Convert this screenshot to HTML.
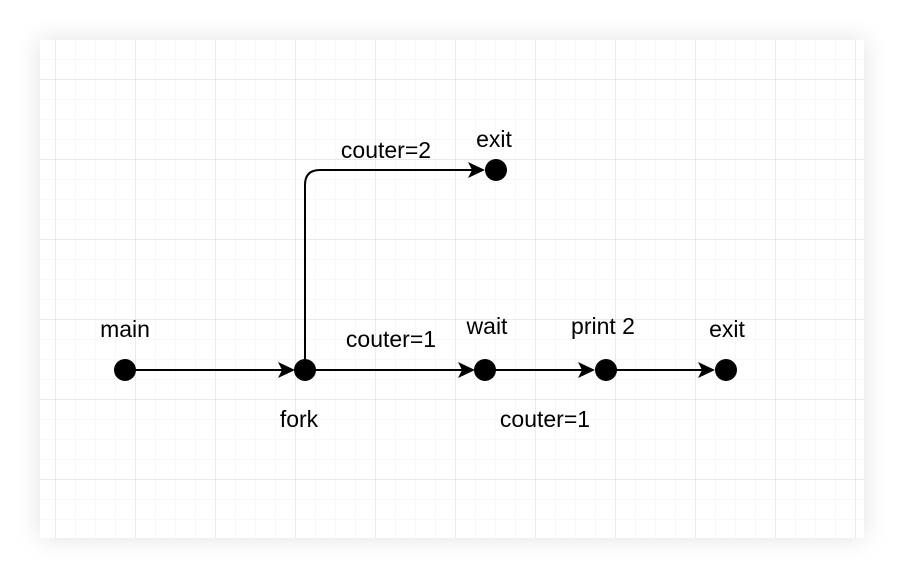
<!DOCTYPE html>
<html><head><style>
html,body{margin:0;padding:0;background:#fff;width:904px;height:578px;overflow:hidden}
#card{position:absolute;left:40px;top:40px;width:824px;height:498px;background:#fff;box-shadow:0 0 24px rgba(0,0,0,0.12)}
svg{position:absolute;left:0;top:0}
text{font-family:"Liberation Sans",Helvetica,sans-serif;font-size:23px;fill:#000}
</style></head><body>
<div id="card"></div>
<svg width="904" height="578" viewBox="0 0 904 578">
<defs>
<pattern id="minor" x="55" y="79" width="20" height="20" patternUnits="userSpaceOnUse">
<path d="M0 0H20M0 0V20" stroke="#f0f0f0" stroke-width="1" fill="none"/>
</pattern>
<pattern id="major" x="55" y="79" width="80" height="80" patternUnits="userSpaceOnUse">
<path d="M0 0H80M0 0V80" stroke="#dcdcdc" stroke-width="1.2" fill="none"/>
</pattern>
<clipPath id="c"><rect x="40" y="40" width="824" height="498"/></clipPath>
</defs>
<g clip-path="url(#c)">
<rect x="40" y="40" width="824" height="498" fill="url(#minor)"/>
<rect x="40" y="40" width="824" height="498" fill="url(#major)"/>
</g>
<g stroke="#000" stroke-width="2" fill="none">
<path d="M125 370H288"/>
<path d="M305 370H468"/>
<path d="M485 370H588"/>
<path d="M605 370H708"/>
<path d="M305 370V185Q305 170 320 170H478"/>
</g>
<g fill="#000">
<path d="M295 370L278 362L282 370L278 378Z"/>
<path d="M475 370L458 362L462 370L458 378Z"/>
<path d="M595 370L578 362L582 370L578 378Z"/>
<path d="M715 370L698 362L702 370L698 378Z"/>
<path d="M485 170L468 162L472 170L468 178Z"/>
<circle cx="125" cy="370" r="11"/>
<circle cx="305" cy="370" r="11"/>
<circle cx="485" cy="370" r="11"/>
<circle cx="606" cy="370" r="11"/>
<circle cx="726" cy="370" r="11"/>
<circle cx="496" cy="170" r="11"/>
</g>
<text x="125" y="337" text-anchor="middle">main</text>
<text x="299" y="427" text-anchor="middle">fork</text>
<text x="487" y="334" text-anchor="middle">wait</text>
<text x="603" y="334" text-anchor="middle">print 2</text>
<text x="727" y="337" text-anchor="middle">exit</text>
<text x="494" y="147" text-anchor="middle">exit</text>
<text x="386" y="158" text-anchor="middle">couter=2</text>
<text x="391" y="347" text-anchor="middle">couter=1</text>
<text x="545" y="427" text-anchor="middle">couter=1</text>
</svg>
</body></html>
